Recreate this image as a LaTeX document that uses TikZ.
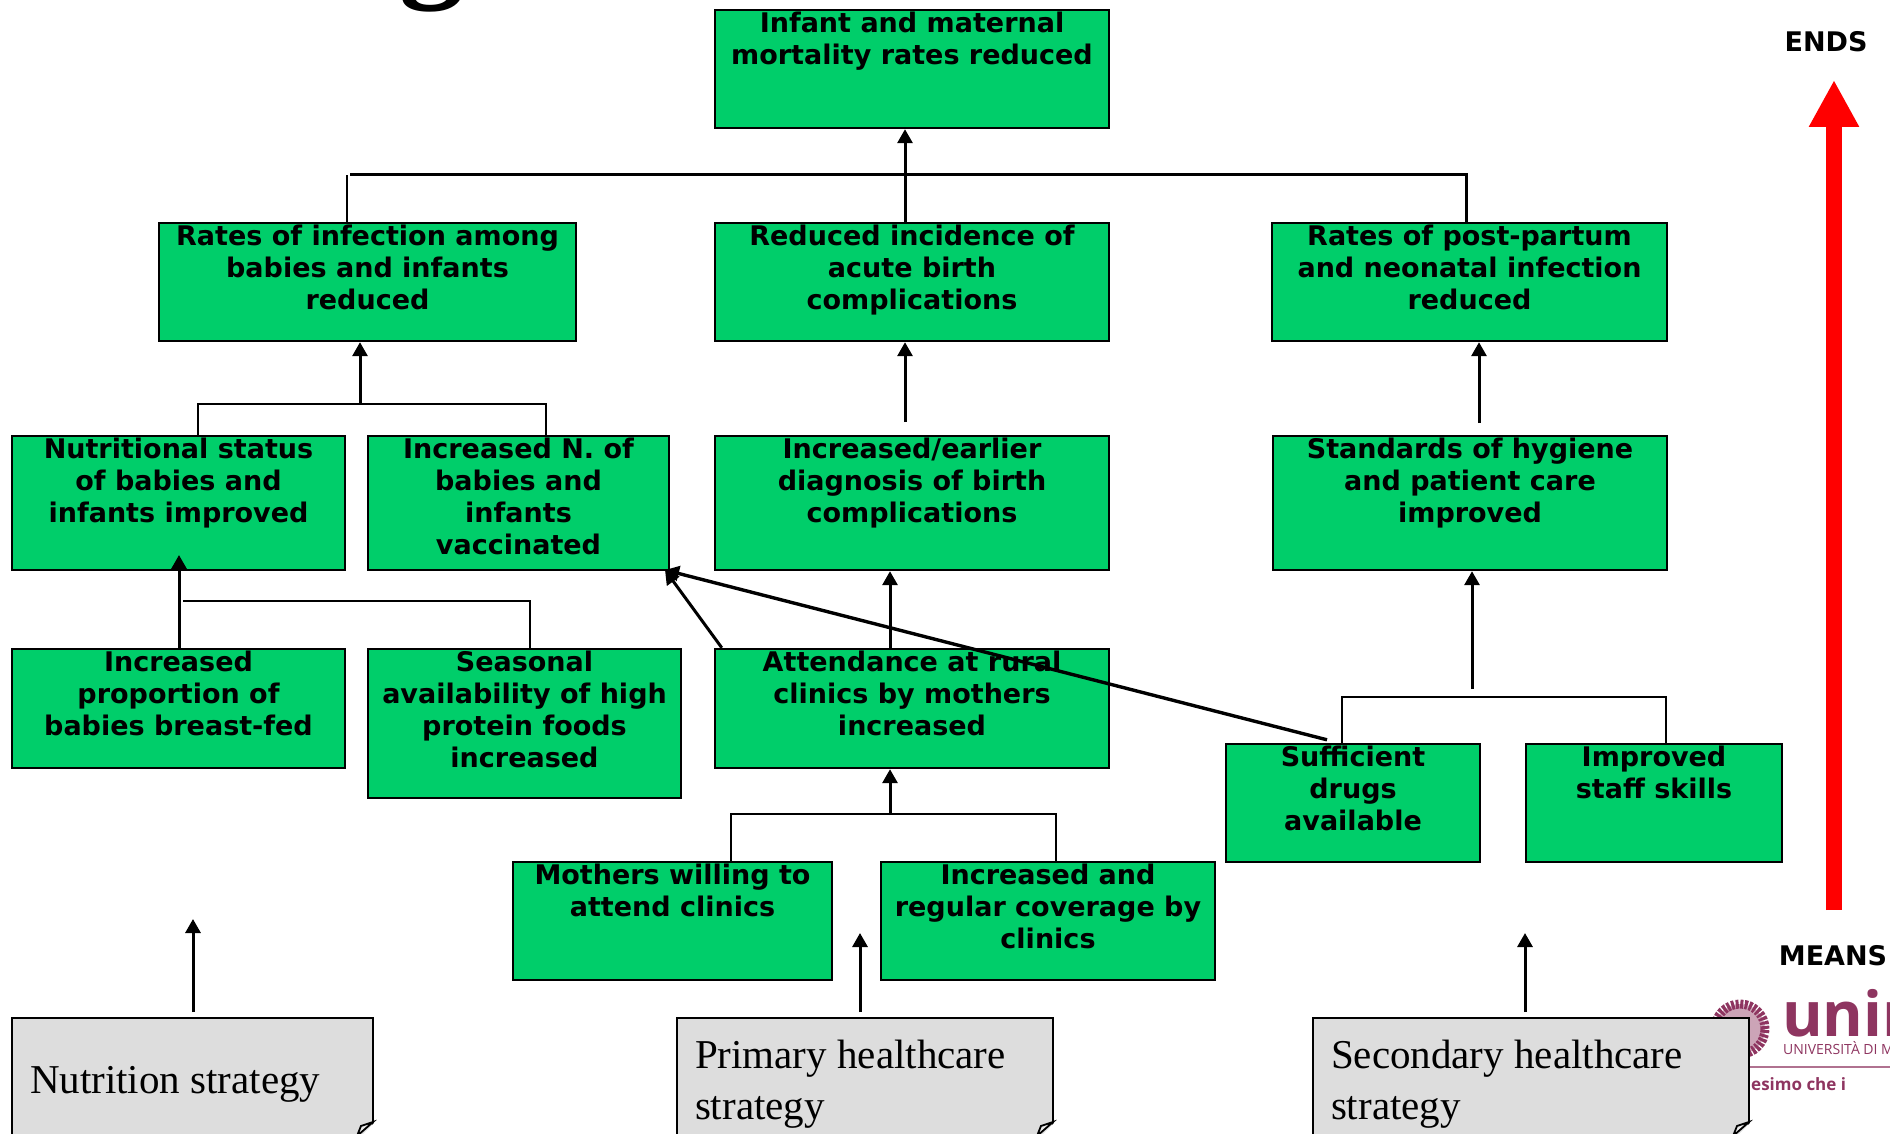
\documentclass[tikz,border=0pt]{standalone}
\usepackage{fontspec}
\setmainfont{Liberation Serif}
\newfontfamily\boxfont{DejaVu Sans}
\newfontfamily\logofont{Open Sans}
\usetikzlibrary{arrows.meta}
\definecolor{boxgreen}{HTML}{00CE6A}
\definecolor{notegray}{HTML}{DDDDDD}
\definecolor{logored}{HTML}{8E3560}
\tikzset{
  greenbox/.style={draw=black,fill=boxgreen,line width=2.4pt,inner sep=0pt},
  greentext/.style={anchor=north,align=center,inner sep=0pt,font=\boxfont\bfseries\fontsize{27}{32}\selectfont},
  notebox/.style={draw=black,fill=notegray,line width=2.4pt,inner sep=0pt},
  notetext/.style={anchor=west,align=left,inner sep=0pt,font=\fontsize{41}{51}\selectfont},
  up/.style={-{Triangle[length=14pt,width=15pt]},line width=3pt},
  branch/.style={line width=2.4pt},
  sidelabel/.style={inner sep=0pt,font=\boxfont\bfseries\fontsize{27}{32}\selectfont},
  logotext/.style={anchor=base west,inner sep=0pt,text=logored}
}
% corners, then the words
\newcommand{\gbox}[6]{
  \node[greenbox,minimum width={(#4-#2)*1pt},minimum height={(#5-#3)*1pt}] (#1) at ({(#2+#4)/2},{(#3+#5)/2}) {};
  \node[greentext] (#1t) at ([yshift=-3pt]#1.north) {#6};
}
\newcommand{\nbox}[4]{
  \node[notebox,minimum width={(#3-#2)*1pt},minimum height=132pt] (#1) at ({(#2+#3)/2},1084) {};
  \node[notetext] (#1t) at ([xshift=19pt]#1.west) {#4};
  \fill[white] (#3+2,1122) -- (#3-18,1142) -- (#3+2,1142) -- cycle;
  \draw[line width=1.8pt,fill=notegray!60] (#3,1122) -- (#3-12,1126) -- (#3-16,1136) -- cycle;
}
\begin{document}
\begin{tikzpicture}[x=1pt,y=-1pt]
  \useasboundingbox (0,0) rectangle (1890,1134);
  % title remains
  \node[inner sep=0pt,anchor=base,font=\bfseries\fontsize{130}{130}\selectfont] (title) at (432,-16) {g};
  % logo
  \node[circle,draw=logored,line width=9pt,dashed,dash pattern=on 3pt off 1.5pt,minimum size=50pt,inner sep=0pt,fill=logored!45] (seal) at (1740,1029) {};
  \node[logotext,font=\logofont\bfseries\fontsize{62}{62}\selectfont] (uni) at (1782,1036) {unim};
  \node[logotext,font=\logofont\fontsize{14}{14}\selectfont] (univ) at (1783,1054) {UNIVERSITÀ DI M};
  \coordinate (rulea) at (1749,1067);
  \coordinate (ruleb) at (1890,1067);
  \draw[logored!70,line width=1.5pt] (rulea) -- (ruleb);
  \node[logotext,font=\logofont\bfseries\fontsize{17}{17}\selectfont] (motto) at (1700,1090) {Umanesimo che i};
  % boxes
  \gbox{goal}{715}{10}{1109}{128}{Infant and maternal\\mortality rates reduced}
  \gbox{infect}{159}{223}{576}{341}{Rates of infection among\\babies and infants\\reduced}
  \gbox{acute}{715}{223}{1109}{341}{Reduced incidence of\\acute birth\\complications}
  \gbox{postp}{1272}{223}{1667}{341}{Rates of post-partum\\and neonatal infection\\reduced}
  \gbox{nutri}{12}{436}{345}{570}{Nutritional status\\of babies and\\infants improved}
  \gbox{vacc}{368}{436}{669}{570}{Increased N. of\\babies and\\infants\\vaccinated}
  \gbox{diag}{715}{436}{1109}{570}{Increased/earlier\\diagnosis of birth\\complications}
  \gbox{hyg}{1273}{436}{1667}{570}{Standards of hygiene\\and patient care\\improved}
  \gbox{breast}{12}{649}{345}{768}{Increased\\proportion of\\babies breast-fed}
  \gbox{season}{368}{649}{681}{798}{Seasonal\\availability of high\\protein foods\\increased}
  \gbox{attend}{715}{649}{1109}{768}{Attendance at rural\\clinics by mothers\\increased}
  \gbox{drugs}{1226}{744}{1480}{862}{Sufficient\\drugs\\available}
  \gbox{staff}{1526}{744}{1782}{862}{Improved\\staff skills}
  \gbox{willing}{513}{862}{832}{980}{Mothers willing to\\attend clinics}
  \gbox{cover}{881}{862}{1215}{980}{Increased and\\regular coverage by\\clinics}
  \nbox{nstrat}{12}{373}{Nutrition strategy}
  \nbox{pstrat}{677}{1053}{Primary healthcare\\strategy}
  \nbox{sstrat}{1313}{1749}{Secondary healthcare\\strategy}
  % top level
  \draw[branch] (infect.north -| 347,0) -- (347,175);
  \draw[branch,line width=3pt] (350,175) -- (1466,175) -- (postp.north -| 1466,0);
  \draw[up] (acute.north -| 905,0) -- (goal.south -| 905,0);
  % second level
  \draw[branch] (nutri.north -| 198,0) -- (198,404) -- (546,404) -- (vacc.north -| 546,0);
  \draw[up] (360,404) -- (infect.south -| 360,0);
  \draw[up] (905,422) -- (acute.south -| 905,0);
  \draw[up] (1479,423) -- (postp.south -| 1479,0);
  % third level
  \draw[up] (breast.north -| 179,0) -- (179,555);
  \draw[branch] (183,601) -- (530,601) -- (season.north -| 530,0);
  \draw[up] (attend.north -| 890,0) -- (diag.south -| 890,0);
  \draw[up] (attend.north west) ++(8,0) -- (665,570);
  \draw[up,line width=3.4pt] (drugs.north -| 1327,0) ++(0,-3) -- (665,570);
  % fourth level
  \draw[branch] (willing.north -| 731,0) -- (731,814) -- (1056,814) -- (cover.north -| 1056,0);
  \draw[up] (890,815) -- (attend.south -| 890,0);
  \draw[branch] (drugs.north -| 1342,0) -- (1342,697) -- (1666,697) -- (staff.north -| 1666,0);
  \draw[up] (1472,689) -- (hyg.south -| 1472,0);
  % strategies
  \draw[up] (193,1012) -- (193,919);
  \draw[up] (860,1012) -- (860,933);
  \draw[up] (1525,1012) -- (1525,933);
  % ends and means
  \node[sidelabel] (ends) at (1826,42) {ENDS};
  \node[sidelabel] (means) at (1833,956) {MEANS};
  \draw[red,line width=16pt,-{Triangle[length=47pt,width=47pt]}] (1834,910) -- (1834,80);
\end{tikzpicture}
\end{document}
